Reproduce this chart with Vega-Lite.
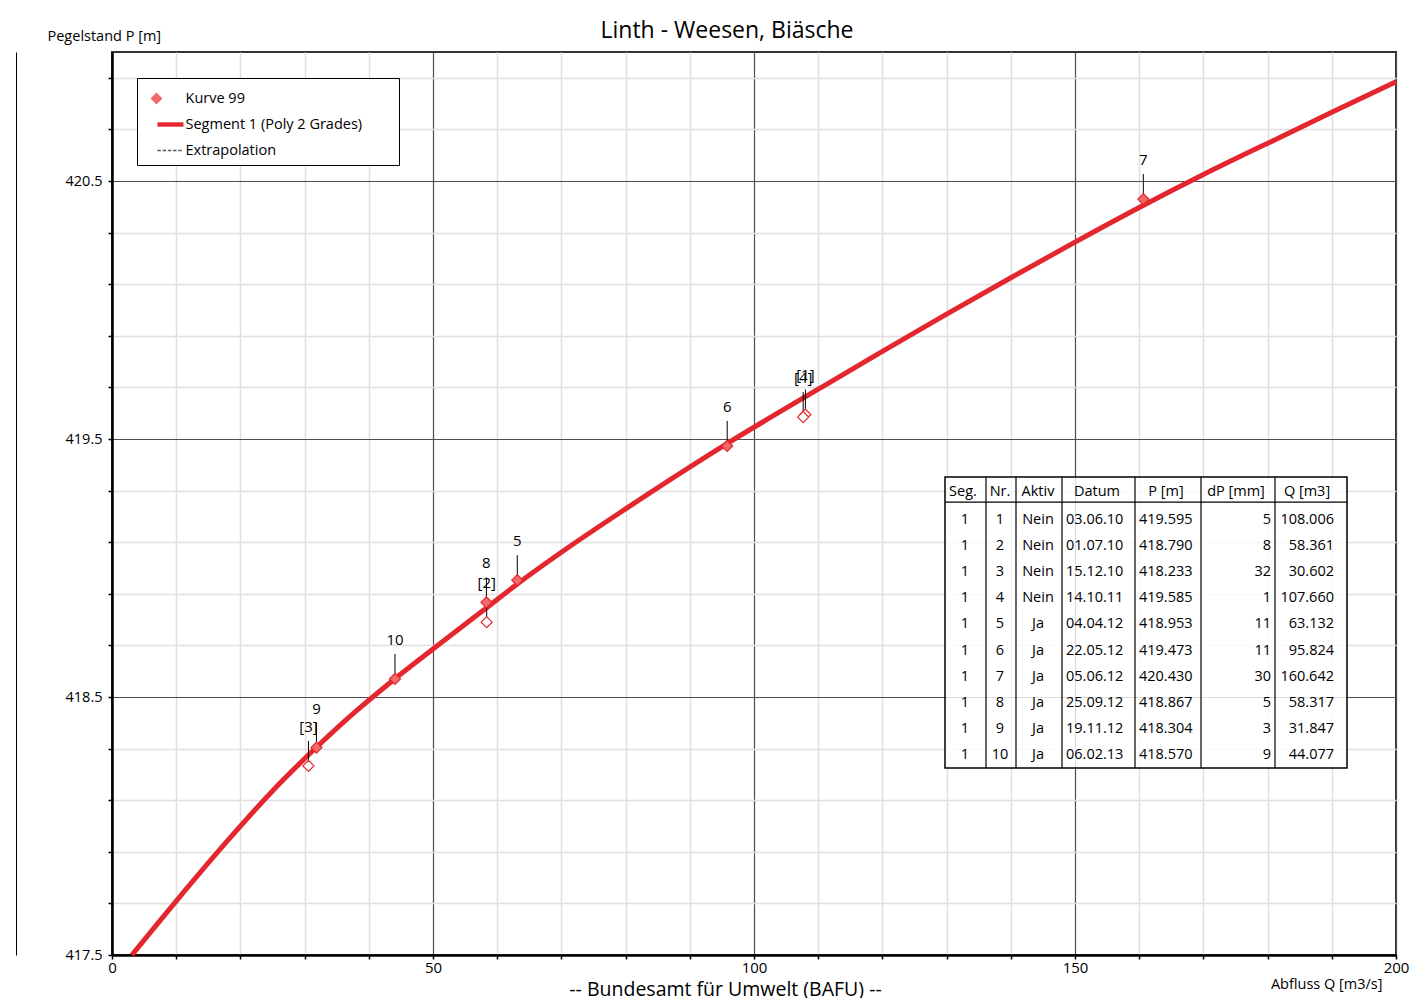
{
  "$schema": "https://vega.github.io/schema/vega-lite/v6.json",
  "autosize": {"type": "none"},
  "width": 1284,
  "height": 903,
  "padding": {"left": 112, "top": 52, "right": 24, "bottom": 43},
  "background": "white",
  "config": {
    "font": "Open Sans",
    "view": {"stroke": "#333333", "strokeWidth": 2},
    "text": {"font": "Open Sans", "color": "black"}
  },
  "title": {
    "text": "Linth - Weesen, Biäsche",
    "font": "Open Sans",
    "fontSize": 23,
    "fontWeight": "normal",
    "color": "black",
    "anchor": "middle",
    "frame": "group",
    "dx": -27,
    "dy": 25,
    "offset": 10
  },
  "datasets": {
    "pts": [
      {"Seg": 1, "Nr": 1, "Aktiv": "Nein", "Datum": "03.06.10", "P": 419.595, "dP": 5, "Q": 108.006, "label": "[1]", "series": "Kurve 99"},
      {"Seg": 1, "Nr": 2, "Aktiv": "Nein", "Datum": "01.07.10", "P": 418.790, "dP": 8, "Q": 58.361, "label": "[2]", "series": "Kurve 99"},
      {"Seg": 1, "Nr": 3, "Aktiv": "Nein", "Datum": "15.12.10", "P": 418.233, "dP": 32, "Q": 30.602, "label": "[3]", "series": "Kurve 99"},
      {"Seg": 1, "Nr": 4, "Aktiv": "Nein", "Datum": "14.10.11", "P": 419.585, "dP": 1, "Q": 107.660, "label": "[4]", "series": "Kurve 99"},
      {"Seg": 1, "Nr": 5, "Aktiv": "Ja", "Datum": "04.04.12", "P": 418.953, "dP": 11, "Q": 63.132, "label": "5", "series": "Kurve 99"},
      {"Seg": 1, "Nr": 6, "Aktiv": "Ja", "Datum": "22.05.12", "P": 419.473, "dP": 11, "Q": 95.824, "label": "6", "series": "Kurve 99"},
      {"Seg": 1, "Nr": 7, "Aktiv": "Ja", "Datum": "05.06.12", "P": 420.430, "dP": 30, "Q": 160.642, "label": "7", "series": "Kurve 99"},
      {"Seg": 1, "Nr": 8, "Aktiv": "Ja", "Datum": "25.09.12", "P": 418.867, "dP": 5, "Q": 58.317, "label": "8", "series": "Kurve 99"},
      {"Seg": 1, "Nr": 9, "Aktiv": "Ja", "Datum": "19.11.12", "P": 418.304, "dP": 3, "Q": 31.847, "label": "9", "series": "Kurve 99"},
      {"Seg": 1, "Nr": 10, "Aktiv": "Ja", "Datum": "06.02.13", "P": 418.570, "dP": 9, "Q": 44.077, "label": "10", "series": "Kurve 99"}
    ],
    "curve": [
      {"Q": 3.1, "P": 417.5},
      {"Q": 10, "P": 417.709},
      {"Q": 18.1, "P": 417.946},
      {"Q": 25, "P": 418.136},
      {"Q": 31.85, "P": 418.305},
      {"Q": 38, "P": 418.445},
      {"Q": 44.08, "P": 418.571},
      {"Q": 50, "P": 418.686},
      {"Q": 58.3, "P": 418.845},
      {"Q": 63.13, "P": 418.938},
      {"Q": 70, "P": 419.061},
      {"Q": 80, "P": 419.229},
      {"Q": 95.8, "P": 419.482},
      {"Q": 110, "P": 419.693},
      {"Q": 120, "P": 419.84},
      {"Q": 130, "P": 419.984},
      {"Q": 140, "P": 420.125},
      {"Q": 150, "P": 420.263},
      {"Q": 160.6, "P": 420.405},
      {"Q": 170, "P": 420.525},
      {"Q": 181.9, "P": 420.669},
      {"Q": 190, "P": 420.766},
      {"Q": 200, "P": 420.885}
    ]
  },
  "layer": [
    {
      "layer": [
        {
          "data": {"name": "curve"},
          "mark": {"type": "line", "color": "#e4272e", "strokeWidth": 5, "interpolate": "monotone"},
          "encoding": {
            "x": {
              "field": "Q", "type": "quantitative",
              "scale": {"domain": [0, 200], "nice": false, "zero": false},
              "axis": {
                "values": [0,10,20,30,40,50,60,70,80,90,100,110,120,130,140,150,160,170,180,190,200],
                "labelExpr": "datum.value % 50 === 0 ? datum.label : ''",
                "format": "d",
                "labelFlush": false,
                "labelOverlap": false,
                "labelFont": "Open Sans",
                "labelFontSize": 15,
                "labelColor": "black",
                "labelPadding": 1,
                "tickSize": 4,
                "tickColor": "black",
                "tickWidth": 1.5,
                "domainColor": "black",
                "domainWidth": 2.5,
                "grid": true,
                "gridColor": {"condition": {"test": "datum.value % 50 === 0", "value": "#4d4d4d"}, "value": "#e0e0e0"},
                "gridWidth": {"condition": {"test": "datum.value % 50 === 0", "value": 1.2}, "value": 1.5},
                "title": "Abfluss Q [m3/s]",
                "titleX": 1270,
                "titleY": 29,
                "titleAlign": "right",
                "titleAnchor": null,
                "titleBaseline": "middle",
                "titleFont": "Open Sans",
                "titleFontSize": 14.5,
                "titleFontWeight": "normal",
                "titleColor": "black"
              }
            },
            "y": {
              "field": "P", "type": "quantitative",
              "scale": {"domain": [417.5, 421.0], "nice": false, "zero": false},
              "axis": {
                "values": [417.5,417.6,417.7,417.8,417.9,418.0,418.1,418.2,418.3,418.4,418.5,418.6,418.7,418.8,418.9,419.0,419.1,419.2,419.3,419.4,419.5,419.6,419.7,419.8,419.9,420.0,420.1,420.2,420.3,420.4,420.5,420.6,420.7,420.8,420.9,421.0],
                "labelExpr": "(abs(datum.value*2 - round(datum.value*2)) < 0.001 && datum.value < 420.99) ? format(datum.value, '.1f') : ''",
                "labelFlush": false,
                "labelOverlap": false,
                "labelFont": "Open Sans",
                "labelFontSize": 14.5,
                "labelColor": "black",
                "labelPadding": 6,
                "tickSize": 4,
                "tickColor": "black",
                "tickWidth": 1.5,
                "domainColor": "black",
                "domainWidth": 2.5,
                "grid": true,
                "gridColor": {"condition": {"test": "abs(datum.value*2 - round(datum.value*2)) < 0.001", "value": "#4d4d4d"}, "value": "#e0e0e0"},
                "gridWidth": {"condition": {"test": "abs(datum.value*2 - round(datum.value*2)) < 0.001", "value": 1.2}, "value": 1.5},
                "title": "Pegelstand P [m]",
                "titleAngle": 0,
                "titleX": -65,
                "titleY": -16,
                "titleAlign": "left",
                "titleAnchor": null,
                "titleBaseline": "middle",
                "titleFont": "Open Sans",
                "titleFontSize": 14.5,
                "titleFontWeight": "normal",
                "titleColor": "black"
              }
            }
          }
        },
        {
          "data": {"name": "pts"},
          "mark": {"type": "rule", "color": "black", "strokeWidth": 1, "y2Offset": -25},
          "encoding": {
            "x": {"field": "Q", "type": "quantitative"},
            "y": {"field": "P", "type": "quantitative"},
            "y2": {"field": "P"}
          }
        },
        {
          "data": {"name": "pts"},
          "mark": {"type": "point", "filled": true, "stroke": "#e4272e", "strokeWidth": 1.2, "opacity": 1, "size": 572, "xOffset": 12.9},
          "encoding": {
            "x": {"field": "Q", "type": "quantitative"},
            "y": {"field": "P", "type": "quantitative"},
            "shape": {
              "field": "series", "type": "nominal",
              "scale": {
                "domain": ["Kurve 99", "Segment 1 (Poly 2 Grades)", "Extrapolation"],
                "range": [
                  "M-1.54,0L-1.08,-0.46L-0.62,0L-1.08,0.46Z",
                  "M-1,-0.17L1,-0.17L1,0.17L-1,0.17Z",
                  "M-1,-0.05L-0.74,-0.05L-0.74,0.05L-1,0.05Z M-0.6,-0.05L-0.34,-0.05L-0.34,0.05L-0.6,0.05Z M-0.2,-0.05L0.06,-0.05L0.06,0.05L-0.2,0.05Z M0.2,-0.05L0.46,-0.05L0.46,0.05L0.2,0.05Z M0.6,-0.05L0.86,-0.05L0.86,0.05L0.6,0.05Z"
                ]
              },
              "legend": {
                "title": "\u00a0",
                "titleOrient": "right",
                "titlePadding": 29,
                "titleFontSize": 14,
                "orient": "none",
                "legendX": 25,
                "legendY": 26,
                "symbolSize": 676,
                "symbolStrokeWidth": 0,
                "symbolOffset": 13,
                "rowPadding": 6,
                "padding": 7.5,
                "labelOffset": 2,
                "labelLimit": 400,
                "labelFont": "Open Sans",
                "labelFontSize": 14.5,
                "labelColor": "black",
                "strokeColor": "black",
                "fillColor": "white"
              }
            },
            "color": {
              "condition": {"test": "datum.Aktiv === 'Nein'", "value": "white"},
              "field": "series", "type": "nominal",
              "scale": {
                "domain": ["Kurve 99", "Segment 1 (Poly 2 Grades)", "Extrapolation"],
                "range": ["#f06a6a", "#e4272e", "#555555"]
              },
              "legend": {
                "title": "\u00a0",
                "titleOrient": "right",
                "titlePadding": 29,
                "titleFontSize": 14,
                "orient": "none",
                "legendX": 25,
                "legendY": 26,
                "symbolSize": 676,
                "symbolStrokeWidth": 0,
                "symbolOffset": 13,
                "rowPadding": 6,
                "padding": 7.5,
                "labelOffset": 2,
                "labelLimit": 400,
                "labelFont": "Open Sans",
                "labelFontSize": 14.5,
                "labelColor": "black",
                "strokeColor": "black",
                "fillColor": "white"
              }
            }
          }
        },
        {
          "data": {"name": "pts"},
          "mark": {"type": "text", "fontSize": 15, "dy": -34, "baseline": "alphabetic", "align": "center", "color": "black"},
          "encoding": {
            "x": {"field": "Q", "type": "quantitative"},
            "y": {"field": "P", "type": "quantitative"},
            "text": {"field": "label"}
          }
        }
      ]
    },
    {
      "layer": [
        {
          "data": {"values": [{}]},
          "mark": {"type": "rect", "fill": "white", "fillOpacity": 0.8, "stroke": "black", "strokeWidth": 1.5},
          "encoding": {
            "x": {
              "datum": 0, "type": "quantitative",
              "scale": {"domain": [0, 402], "range": [833, 1235], "nice": false, "zero": false},
              "axis": {
                "orient": "bottom",
                "title": "-- Bundesamt für Umwelt (BAFU) --",
                "labels": false, "ticks": false, "domain": false, "grid": false,
                "titleX": 613, "titleY": 34, "titleAlign": "center", "titleAnchor": null,
                "titleBaseline": "middle",
                "titleFont": "Open Sans", "titleFontSize": 19.5, "titleFontWeight": "normal", "titleColor": "black"
              }
            },
            "x2": {"datum": 402},
            "y": {
              "datum": -0.65, "type": "quantitative",
              "scale": {"domain": [-16.934, 17.664], "range": [0, 903], "nice": false, "zero": false},
              "axis": {
                "orient": "left",
                "offset": 96,
                "title": null,
                "labels": false, "ticks": false, "grid": false,
                "domain": true, "domainColor": "black", "domainWidth": 1
              }
            },
            "y2": {"datum": 10.5}
          }
        },
        {"data": {"values": [{}]}, "mark": {"type": "rule", "color": "black", "strokeWidth": 1.2},
         "encoding": {"x": {"datum": 0, "type": "quantitative"}, "x2": {"datum": 402}, "y": {"datum": 0.31, "type": "quantitative"}}},
        {"data": {"values": [{}]}, "mark": {"type": "rule", "color": "black", "strokeWidth": 1.2},
         "encoding": {"x": {"datum": 41, "type": "quantitative"}, "y": {"datum": -0.65, "type": "quantitative"}, "y2": {"datum": 10.5}}},
        {"data": {"values": [{}]}, "mark": {"type": "rule", "color": "black", "strokeWidth": 1.2},
         "encoding": {"x": {"datum": 71, "type": "quantitative"}, "y": {"datum": -0.65, "type": "quantitative"}, "y2": {"datum": 10.5}}},
        {"data": {"values": [{}]}, "mark": {"type": "rule", "color": "black", "strokeWidth": 1.2},
         "encoding": {"x": {"datum": 117, "type": "quantitative"}, "y": {"datum": -0.65, "type": "quantitative"}, "y2": {"datum": 10.5}}},
        {"data": {"values": [{}]}, "mark": {"type": "rule", "color": "black", "strokeWidth": 1.2},
         "encoding": {"x": {"datum": 190, "type": "quantitative"}, "y": {"datum": -0.65, "type": "quantitative"}, "y2": {"datum": 10.5}}},
        {"data": {"values": [{}]}, "mark": {"type": "rule", "color": "black", "strokeWidth": 1.2},
         "encoding": {"x": {"datum": 256, "type": "quantitative"}, "y": {"datum": -0.65, "type": "quantitative"}, "y2": {"datum": 10.5}}},
        {"data": {"values": [{}]}, "mark": {"type": "rule", "color": "black", "strokeWidth": 1.2},
         "encoding": {"x": {"datum": 330, "type": "quantitative"}, "y": {"datum": -0.65, "type": "quantitative"}, "y2": {"datum": 10.5}}},
        {"data": {"values": [{}]}, "mark": {"type": "text", "fontSize": 14.5, "align": "center", "baseline": "middle"},
         "encoding": {"x": {"datum": 18, "type": "quantitative"}, "y": {"datum": -0.09, "type": "quantitative"}, "text": {"value": "Seg."}}},
        {"data": {"values": [{}]}, "mark": {"type": "text", "fontSize": 14.5, "align": "center", "baseline": "middle"},
         "encoding": {"x": {"datum": 55, "type": "quantitative"}, "y": {"datum": -0.09, "type": "quantitative"}, "text": {"value": "Nr."}}},
        {"data": {"values": [{}]}, "mark": {"type": "text", "fontSize": 14.5, "align": "center", "baseline": "middle"},
         "encoding": {"x": {"datum": 93, "type": "quantitative"}, "y": {"datum": -0.09, "type": "quantitative"}, "text": {"value": "Aktiv"}}},
        {"data": {"values": [{}]}, "mark": {"type": "text", "fontSize": 14.5, "align": "center", "baseline": "middle"},
         "encoding": {"x": {"datum": 152, "type": "quantitative"}, "y": {"datum": -0.09, "type": "quantitative"}, "text": {"value": "Datum"}}},
        {"data": {"values": [{}]}, "mark": {"type": "text", "fontSize": 14.5, "align": "center", "baseline": "middle"},
         "encoding": {"x": {"datum": 221, "type": "quantitative"}, "y": {"datum": -0.09, "type": "quantitative"}, "text": {"value": "P [m]"}}},
        {"data": {"values": [{}]}, "mark": {"type": "text", "fontSize": 14.5, "align": "center", "baseline": "middle"},
         "encoding": {"x": {"datum": 291, "type": "quantitative"}, "y": {"datum": -0.09, "type": "quantitative"}, "text": {"value": "dP [mm]"}}},
        {"data": {"values": [{}]}, "mark": {"type": "text", "fontSize": 14.5, "align": "center", "baseline": "middle"},
         "encoding": {"x": {"datum": 362, "type": "quantitative"}, "y": {"datum": -0.09, "type": "quantitative"}, "text": {"value": "Q [m3]"}}},
        {"data": {"name": "pts"}, "mark": {"type": "text", "fontSize": 14.5, "align": "center", "baseline": "middle"},
         "encoding": {"x": {"datum": 20, "type": "quantitative"}, "y": {"field": "Nr", "type": "quantitative"}, "text": {"field": "Seg"}}},
        {"data": {"name": "pts"}, "mark": {"type": "text", "fontSize": 14.5, "align": "center", "baseline": "middle"},
         "encoding": {"x": {"datum": 55, "type": "quantitative"}, "y": {"field": "Nr", "type": "quantitative"}, "text": {"field": "Nr"}}},
        {"data": {"name": "pts"}, "mark": {"type": "text", "fontSize": 14.5, "align": "center", "baseline": "middle"},
         "encoding": {"x": {"datum": 93, "type": "quantitative"}, "y": {"field": "Nr", "type": "quantitative"}, "text": {"field": "Aktiv"}}},
        {"data": {"name": "pts"}, "mark": {"type": "text", "fontSize": 14.5, "align": "left", "baseline": "middle"},
         "encoding": {"x": {"datum": 121, "type": "quantitative"}, "y": {"field": "Nr", "type": "quantitative"}, "text": {"field": "Datum"}}},
        {"data": {"name": "pts"}, "mark": {"type": "text", "fontSize": 14.5, "align": "left", "baseline": "middle"},
         "encoding": {"x": {"datum": 194, "type": "quantitative"}, "y": {"field": "Nr", "type": "quantitative"}, "text": {"field": "P", "format": ".3f"}}},
        {"data": {"name": "pts"}, "mark": {"type": "text", "fontSize": 14.5, "align": "right", "baseline": "middle"},
         "encoding": {"x": {"datum": 326, "type": "quantitative"}, "y": {"field": "Nr", "type": "quantitative"}, "text": {"field": "dP"}}},
        {"data": {"name": "pts"}, "mark": {"type": "text", "fontSize": 14.5, "align": "right", "baseline": "middle"},
         "encoding": {"x": {"datum": 389, "type": "quantitative"}, "y": {"field": "Nr", "type": "quantitative"}, "text": {"field": "Q", "format": ".3f"}}}
      ]
    }
  ],
  "resolve": {"scale": {"x": "independent", "y": "independent"}, "axis": {"x": "independent", "y": "independent"}}
}
